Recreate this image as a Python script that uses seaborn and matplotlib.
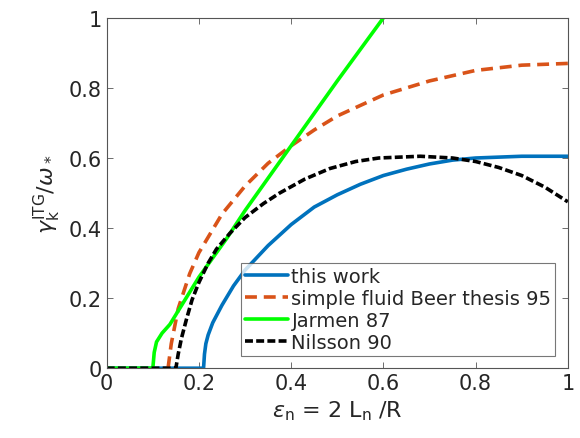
import numpy as np
import pandas as pd
import matplotlib
matplotlib.use("Agg")
import matplotlib.pyplot as plt
import seaborn as sns

sns.set_style("white")
plt.rcParams['font.family'] = ['DejaVu Sans']
plt.rcParams['mathtext.fontset'] = 'dejavusans'

# growth rate curves
x_this = [0, 0.21, 0.212, 0.215, 0.22, 0.23, 0.25, 0.275, 0.3, 0.35, 0.4, 0.45, 0.5, 0.55,
          0.6, 0.65, 0.7, 0.75, 0.8, 0.9, 1.0]
y_this = [0, 0, 0.04, 0.07, 0.095, 0.13, 0.18, 0.235, 0.28, 0.35, 0.41, 0.46, 0.495, 0.525,
          0.55, 0.568, 0.583, 0.594, 0.6, 0.605, 0.605]

x_beer = [0.133, 0.14, 0.155, 0.18, 0.2, 0.25, 0.3, 0.35, 0.4, 0.45, 0.5, 0.6, 0.7, 0.8, 0.9, 1.0]
y_beer = [0, 0.07, 0.17, 0.27, 0.33, 0.44, 0.52, 0.585, 0.635, 0.68, 0.72, 0.78, 0.82, 0.85, 0.865, 0.87]

x_jarmen = [0, 0.1, 0.103, 0.108, 0.12, 0.137, 0.2, 0.26, 0.3, 0.4, 0.5, 0.6]
y_jarmen = [0, 0, 0.045, 0.075, 0.1, 0.125, 0.26, 0.37, 0.45, 0.635, 0.82, 1.0]

x_nilsson = [0, 0.15, 0.155, 0.162, 0.173, 0.185, 0.2, 0.22, 0.238, 0.267, 0.3, 0.34, 0.375,
             0.43, 0.484, 0.54, 0.59, 0.68, 0.75, 0.8, 0.85, 0.9, 0.95, 1.0]
y_nilsson = [0, 0, 0.04, 0.085, 0.14, 0.195, 0.245, 0.3, 0.34, 0.385, 0.43, 0.47, 0.5,
             0.54, 0.57, 0.59, 0.6, 0.605, 0.6, 0.59, 0.573, 0.55, 0.517, 0.475]

fig = plt.figure(figsize=(5.8, 4.39), dpi=100)
ax = fig.add_axes([0.184, 0.159, 0.795, 0.798])

sns.lineplot(x=x_this, y=y_this, ax=ax, color='#0072BD', lw=2.6, label='this work', sort=False)
sns.lineplot(x=x_beer, y=y_beer, ax=ax, color='#D95319', lw=2.6, label='simple fluid Beer thesis 95', sort=False)
sns.lineplot(x=x_jarmen, y=y_jarmen, ax=ax, color='#00FF00', lw=2.6, label='Jarmen 87', sort=False)
sns.lineplot(x=x_nilsson, y=y_nilsson, ax=ax, color='black', lw=2.6, label='Nilsson 90', sort=False)
ax.lines[1].set_dashes([3.3, 1.9])
ax.lines[3].set_dashes([2.2, 0.9])

ax.set_xlim(0, 1)
ax.set_ylim(0, 1)
ax.set_xticks([0, 0.2, 0.4, 0.6, 0.8, 1])
ax.set_xticklabels(['0', '0.2', '0.4', '0.6', '0.8', '1'])
ax.set_yticks([0, 0.2, 0.4, 0.6, 0.8, 1])
ax.set_yticklabels(['0', '0.2', '0.4', '0.6', '0.8', '1'])
ax.tick_params(direction='in', length=4, labelsize=15, color='#555555', width=0.6,
               bottom=True, left=True, top=True, right=True, labelcolor='#262626')
for s in ax.spines.values():
    s.set_color('#555555')
    s.set_linewidth(0.8)

ax.set_xlabel(r'$\epsilon_{\rm n}$ = 2 L$_{\rm n}$ /R', fontsize=16, color='#262626')
ax.set_ylabel(r'$\gamma_{\rm k}^{\rm ITG}/\omega_*$', fontsize=16, color='#262626')

leg = ax.legend(loc='lower right', bbox_to_anchor=(0.973, 0.035), fontsize=14,
                frameon=True, fancybox=False, edgecolor='#555555',
                handlelength=2.2, handletextpad=0.2, borderpad=0.2,
                labelspacing=0.15, borderaxespad=0)
leg.get_frame().set_linewidth(0.8)

fig.savefig('out.png', dpi=100)
